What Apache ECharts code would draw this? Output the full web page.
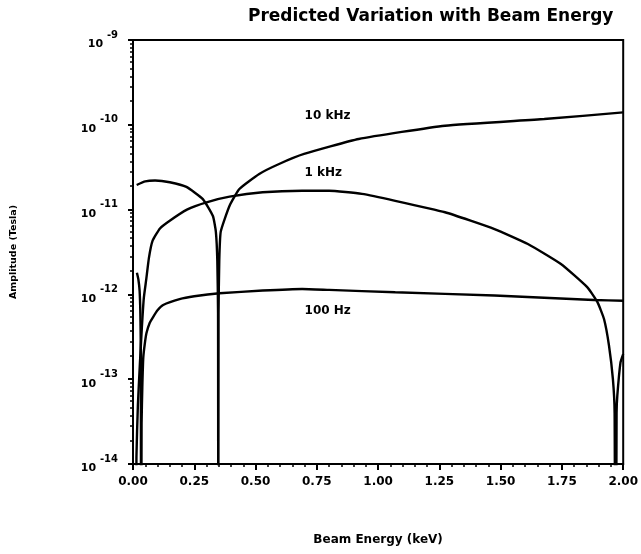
<!DOCTYPE html>
<html>
<head>
<meta charset="utf-8">
<script src="https://cdn.jsdelivr.net/npm/echarts@6/dist/echarts.min.js"></script>
<style>
  html, body { margin: 0; padding: 0; background: #fff; }
  #chart { width: 641px; height: 554px; }
</style>
</head>
<body>
<div id="chart"></div>
<script>
// Beam energy samples (keV) and predicted field amplitude (Tesla) for each frequency
const energy10k = [0.015, 0.05, 0.09, 0.15, 0.218, 0.285, 0.326, 0.338, 0.344, 0.347, 0.348, 0.349, 0.352, 0.358, 0.394, 0.434, 0.515, 0.596, 0.698, 0.921, 1.273, 1.678, 2.0];
const amp10k    = [1.95e-11, 2.15e-11, 2.2e-11, 2.1e-11, 1.85e-11, 1.33e-11, 8.4e-12, 5.5e-12, 2.5e-12, 6e-13, 1e-16, 6e-13, 2.5e-12, 5.5e-12, 1.11e-11, 1.75e-11, 2.63e-11, 3.45e-11, 4.53e-11, 6.8e-11, 9.76e-11, 1.17e-10, 1.4e-10];

const energy1k = [0.012, 0.014, 0.02, 0.028, 0.036, 0.044, 0.054, 0.065, 0.08, 0.11, 0.15, 0.22, 0.30, 0.394, 0.529, 0.69, 0.80, 0.934, 1.07, 1.273, 1.475, 1.611, 1.746, 1.854, 1.895, 1.922, 1.942, 1.958, 1.965, 1.969, 1.973, 1.976, 1.989, 2.0];
const amp1k    = [1e-16, 1.2e-14, 5e-14, 1.5e-13, 4e-13, 9e-13, 1.5e-12, 2.7e-12, 4.3e-12, 6e-12, 7.4e-12, 1e-11, 1.22e-11, 1.42e-11, 1.6e-11, 1.67e-11, 1.67e-11, 1.53e-11, 1.27e-11, 9.3e-12, 5.9e-12, 3.93e-12, 2.28e-12, 1.21e-12, 8.1e-13, 5.1e-13, 2.5e-13, 1.0e-13, 4e-14, 1e-17, 4e-14, 6.4e-14, 1.58e-13, 1.98e-13];

const energy100 = [0.016, 0.022, 0.027, 0.030, 0.032, 0.033, 0.035, 0.038, 0.042, 0.048, 0.055, 0.068, 0.082, 0.10, 0.123, 0.19, 0.25, 0.353, 0.529, 0.69, 0.80, 1.07, 1.475, 1.88, 2.0];
const amp100    = [1.8e-12, 1.5e-12, 1.1e-12, 6e-13, 2e-13, 1e-16, 3e-14, 8e-14, 1.8e-13, 2.6e-13, 3.5e-13, 4.6e-13, 5.4e-13, 6.5e-13, 7.5e-13, 8.8e-13, 9.5e-13, 1.03e-12, 1.11e-12, 1.16e-12, 1.13e-12, 1.06e-12, 9.7e-13, 8.6e-13, 8.4e-13];

// Curve names and where each name is written (energy, amplitude)
const curveNames = ['10 kHz', '1 kHz', '100 Hz'];
const namePositions = [[0.70, 1.27e-10], [0.70, 2.7e-11], [0.70, 6.4e-13]];

const pairs = (xs, ys) => xs.map((x, i) => [x, ys[i]]);
const FONT = '"DejaVu Sans", "Liberation Sans", Arial, sans-serif';

const chart = echarts.init(document.getElementById('chart'), null, { renderer: 'canvas' });

const lineSeries = (name, data) => ({
  name: name,
  type: 'line',
  data: data,
  showSymbol: false,
  clip: true,
  smooth: 0.15,
  lineStyle: { color: '#000', width: 2.4 },
  animation: false
});

chart.setOption({
  backgroundColor: '#fff',
  animation: false,
  textStyle: { fontFamily: FONT, color: '#000' },
  title: {
    text: 'Predicted Variation with Beam Energy',
    left: 243,
    top: 3,
    textStyle: { fontFamily: FONT, fontSize: 17, fontWeight: 'bold', color: '#000' }
  },
  grid: {
    left: 133, right: 15, top: 40, bottom: 90,
    show: true, borderColor: '#000', borderWidth: 2, containLabel: false
  },
  xAxis: {
    type: 'value',
    min: 0, max: 2, interval: 0.25,
    name: 'Beam Energy (keV)',
    nameLocation: 'middle',
    nameGap: 70,
    nameTextStyle: { fontFamily: FONT, fontSize: 12, fontWeight: 'bold', color: '#000' },
    axisLine: { lineStyle: { color: '#000', width: 2 } },
    axisTick: { show: true, inside: false, length: 6, lineStyle: { color: '#000', width: 2 } },
    minorTick: { show: true, splitNumber: 5, length: 3, lineStyle: { color: '#000', width: 1.5 } },
    splitLine: { show: false },
    axisLabel: {
      margin: 12,
      fontFamily: FONT, fontSize: 12, fontWeight: 'bold', color: '#000',
      formatter: v => v.toFixed(2)
    }
  },
  yAxis: {
    type: 'log',
    logBase: 10,
    min: 1e-14, max: 1e-9,
    name: 'Amplitude (Tesla)',
    nameLocation: 'middle',
    nameRotate: 90,
    nameGap: 114,
    nameTextStyle: { fontFamily: FONT, fontSize: 9.5, fontWeight: 'bold', color: '#000' },
    axisLine: { lineStyle: { color: '#000', width: 2 } },
    axisTick: { show: true, inside: false, length: 5, lineStyle: { color: '#000', width: 2 } },
    minorTick: { show: true, splitNumber: 10, length: 3, lineStyle: { color: '#000', width: 1.5 } },
    splitLine: { show: false },
    axisLabel: {
      margin: 15,
      formatter: v => '{b|10} {s|' + Math.round(Math.log10(v)) + '}',
      rich: {
        b: { fontFamily: FONT, fontSize: 11, fontWeight: 'bold', color: '#000', verticalAlign: 'bottom', lineHeight: 20 },
        s: { fontFamily: FONT, fontSize: 10, fontWeight: 'bold', color: '#000', verticalAlign: 'top', lineHeight: 20 }
      }
    }
  },
  series: [
    lineSeries('10 kHz', pairs(energy10k, amp10k)),
    lineSeries('1 kHz', pairs(energy1k, amp1k)),
    lineSeries('100 Hz', pairs(energy100, amp100))
  ]
});

// Write the curve names beside their lines, placed through the axes
chart.setOption({
  graphic: curveNames.map((txt, i) => {
    const p = chart.convertToPixel({ gridIndex: 0 }, namePositions[i]);
    return {
      type: 'text',
      x: p[0], y: p[1],
      style: {
        text: txt,
        fontFamily: FONT, fontSize: 12, fontWeight: 'bold', fill: '#000',
        textAlign: 'left', textVerticalAlign: 'middle'
      },
      silent: true
    };
  })
});
</script>
</body>
</html>
